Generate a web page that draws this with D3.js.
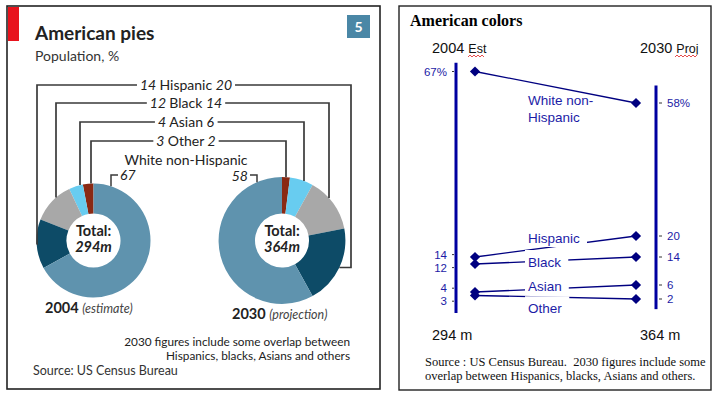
<!DOCTYPE html>
<html>
<head>
<meta charset="utf-8">
<script src="https://cdn.jsdelivr.net/npm/d3@7"></script>
<style>
  body { margin: 0; background: #fff; }
  svg { display: block; }
</style>
</head>
<body>
<svg id="chart" width="718" height="398"></svg>
<script>
// data
const groups = ['White non-Hispanic', 'Hispanic', 'Black', 'Asian', 'Other']
const share2004 = [67, 14, 12, 4, 3]
const share2030 = [58, 20, 14, 6, 2]
const years = ['2004', '2030']
const yearNotes = ['estimate', 'projection']
const yearTags = ['Est', 'Proj']
const totals = [294, 364]

const svg = d3.select('#chart')

const pieColor = d3.scaleOrdinal()
    .domain(groups)
    .range(['#5f93ae', '#0d4b67', '#a8a8a8', '#68ccf0', '#8a2913'])

// ---------- left panel: the pies ----------
const left = svg.append('g').attr('font-family', 'Lato, sans-serif').attr('fill', '#222')

left.append('rect')
    .attr('x', 7).attr('y', 6).attr('width', 373).attr('height', 383)
    .attr('fill', '#fff').attr('stroke', '#222').attr('stroke-width', 1.6)

left.append('rect')
    .attr('x', 8).attr('y', 7).attr('width', 11).attr('height', 34)
    .attr('fill', '#e8131d')

left.append('text')
    .attr('x', 35).attr('y', 40)
    .attr('font-size', 19).attr('font-weight', 700)
    .text('American pies')

left.append('text')
    .attr('x', 35).attr('y', 61)
    .attr('font-size', 14).attr('fill', '#333')
    .text('Population, %')

left.append('rect')
    .attr('x', 347).attr('y', 15).attr('width', 23).attr('height', 23)
    .attr('fill', '#4a87a6')
left.append('text')
    .attr('x', 358.5).attr('y', 32)
    .attr('text-anchor', 'middle').attr('font-size', 14).attr('font-weight', 700)
    .attr('fill', '#fff')
    .text('5')

const baseR = 57
const innerR = 27
const centers = [[93.5, 240.5], [282, 240.5]]
const shares = [share2004, share2030]

const pieData = shares.map((vals, k) => {
    const rows = groups.map((g, i) => ({ group: g, value: vals[i] })).reverse()
    const pie = d3.pie().sort(null).value(d => d.value)
        .startAngle(0)
        .endAngle(k == 0 ? -2 * Math.PI : 2 * Math.PI)
    return pie(rows)
})

const radii = totals.map(t => baseR * Math.sqrt(t / totals[0]))

pieData.forEach((arcs, k) => {
    const [cx, cy] = centers[k]
    const arc = d3.arc().innerRadius(innerR).outerRadius(radii[k])
    const g = left.append('g').attr('transform', `translate(${cx},${cy})`)
    g.selectAll('path')
        .data(arcs)
        .join('path')
        .attr('d', arc)
        .attr('fill', d => pieColor(d.data.group))

    g.append('text')
        .attr('y', -5).attr('text-anchor', 'middle')
        .attr('font-size', 14.5).attr('font-weight', 700)
        .text('Total:')
    g.append('text')
        .attr('y', 11).attr('text-anchor', 'middle')
        .attr('font-size', 14.5).attr('font-weight', 700).attr('font-style', 'italic')
        .text(totals[k] + 'm')
})

// year captions
const caption = [[45, 313], [232, 319]]
years.forEach((yr, k) => {
    const t = left.append('text')
        .attr('x', caption[k][0]).attr('y', caption[k][1])
        .attr('font-size', 14.5).attr('font-weight', 700)
    t.append('tspan').text(yr + ' ')
    t.append('tspan')
        .attr('font-size', 12.5).attr('font-weight', 400).attr('font-style', 'italic').attr('fill', '#444')
        .text('(' + yearNotes[k] + ')')
})

// bracket leaders: where a vertical line meets the donut
const edgePoint = (k, x, group) => {
    const [cx, cy] = centers[k]
    const r = radii[k]
    const dx = x - cx
    if (Math.abs(dx) < r - 1) return [[x, cy - Math.sqrt(r * r - dx * dx)]]
    const d = pieData[k].find(a => a.data.group == group)
    const mid = (d.startAngle + d.endAngle) / 2
    const py = cy - r * Math.cos(mid)
    return [[x, py], [cx + r * Math.sin(mid), py]]
}

const levelY = [85, 103, 122, 141]
const leftX = [37, 56, 80, 91]
const rightX = [351, 329, 304, 286]
const labelX = 186

const leader = d3.line()
groups.slice(1).forEach((g, i) => {
    const a = edgePoint(0, leftX[i], g).reverse()
    const b = edgePoint(1, rightX[i], g)
    const pts = [...a, [leftX[i], levelY[i]], [rightX[i], levelY[i]], ...b]
    left.append('path')
        .attr('d', leader(pts))
        .attr('fill', 'none').attr('stroke', '#3a3a3a').attr('stroke-width', 1.7)

    const j = i + 1
    const bg = left.append('rect').attr('fill', '#fff')
    const t = left.append('text')
        .attr('x', labelX).attr('y', levelY[i] + 5)
        .attr('text-anchor', 'middle').attr('font-size', 14)
    t.append('tspan').attr('font-style', 'italic').text(share2004[j] + ' ')
    t.append('tspan').text(g + ' ')
    t.append('tspan').attr('font-style', 'italic').text(share2030[j])
    const bb = t.node().getBBox()
    bg.attr('x', bb.x - 3).attr('y', bb.y).attr('width', bb.width + 6).attr('height', bb.height)
})

// white non-hispanic label and its little hooks
left.append('text')
    .attr('x', labelX).attr('y', 165)
    .attr('text-anchor', 'middle').attr('font-size', 14)
    .text(groups[0])

const hookY = 175
const hook0 = edgePoint(0, 111, groups[0])[0]
left.append('path')
    .attr('d', leader([hook0, [111, hookY], [118, hookY]]))
    .attr('fill', 'none').attr('stroke', '#3a3a3a').attr('stroke-width', 1.5)
left.append('text')
    .attr('x', 120).attr('y', 180)
    .attr('font-size', 14).attr('font-style', 'italic')
    .text(share2004[0])

const hook1 = edgePoint(1, 257, groups[0])[0]
left.append('path')
    .attr('d', leader([[250, hookY], [257, hookY], hook1]))
    .attr('fill', 'none').attr('stroke', '#3a3a3a').attr('stroke-width', 1.5)
left.append('text')
    .attr('x', 248).attr('y', 181)
    .attr('text-anchor', 'end').attr('font-size', 14).attr('font-style', 'italic')
    .text(share2030[0])

left.append('text')
    .attr('x', 350).attr('y', 346).attr('text-anchor', 'end').attr('font-size', 11.8)
    .text('2030 figures include some overlap between')
left.append('text')
    .attr('x', 350).attr('y', 360).attr('text-anchor', 'end').attr('font-size', 11.8)
    .text('Hispanics, blacks, Asians and others')
left.append('text')
    .attr('x', 33).attr('y', 375).attr('font-size', 12.5).attr('fill', '#333')
    .text('Source: US Census Bureau')

// ---------- right panel: slope chart ----------
const navy = '#000080'
const ink = '#1c1ca6'
const right = svg.append('g').attr('font-family', '"Liberation Sans", Arial, sans-serif')

right.append('rect')
    .attr('x', 399).attr('y', 6).attr('width', 312).attr('height', 384)
    .attr('fill', '#fff').attr('stroke', '#222').attr('stroke-width', 1.4)

right.append('text')
    .attr('x', 410).attr('y', 26)
    .attr('font-family', '"Liberation Serif", "Times New Roman", serif')
    .attr('font-size', 16).attr('font-weight', 700)
    .text('American colors')

const x = d3.scalePoint().domain(years).range([475, 636])
const y = d3.scaleLinear().domain([0, 58]).range([306, 103])

// axis bars
const axisX = [456, 656]
const axisSpan = [[69.5, -2], [63, -0.9]]
axisX.forEach((ax, k) => {
    right.append('line')
        .attr('x1', ax).attr('x2', ax)
        .attr('y1', y(axisSpan[k][0])).attr('y2', y(axisSpan[k][1]))
        .attr('stroke', '#0000a0').attr('stroke-width', 3)
})

// headers, clipped at the baseline like the original
right.append('clipPath').attr('id', 'headclip')
    .append('rect').attr('x', 400).attr('y', 30).attr('width', 310).attr('height', 24.5)
const heads = right.append('g').attr('clip-path', 'url(#headclip)')
const headX = [432, 640]
years.forEach((yr, k) => {
    const t = heads.append('text')
        .attr('x', headX[k]).attr('y', 53)
        .attr('font-size', 14.5).attr('fill', '#111')
    t.append('tspan').text(yr + ' ')
    t.append('tspan').attr('font-size', 12.5).text(yearTags[k])
})
// spell-check squiggles
const squig = [[468, 485], [675, 697]]
squig.forEach(([a, b]) => {
    const pts = d3.range(a, b + 0.1, 2).map((px, i) => [px, i % 2 ? 55 : 57])
    right.append('path')
        .attr('d', d3.line()(pts))
        .attr('fill', 'none').attr('stroke', '#e02020').attr('stroke-width', 0.8)
})

// value ticks, labels pushed apart when they crowd (lower one moves more)
const minGap = 13
const tickLabels = (vals, side) => {
    const items = vals.map((v, i) => ({ v, text: i == 0 ? v + '%' : String(v), pos: y(v) }))
        .sort((a, b) => a.pos - b.pos)
    for (let pass = 0; pass < 4; pass++) {
        for (let i = 1; i < items.length; i++) {
            const gap = items[i].pos - items[i - 1].pos
            if (gap < minGap) {
                const need = minGap - gap
                items[i - 1].pos -= need * 0.4
                items[i].pos += need * 0.6
            }
        }
    }
    const ax = axisX[side]
    const g = right.append('g')
    g.selectAll('line')
        .data(items)
        .join('line')
        .attr('x1', side == 0 ? ax - 4 : ax + 3)
        .attr('x2', side == 0 ? ax - 2 : ax + 6)
        .attr('y1', d => d.pos).attr('y2', d => d.pos)
        .attr('stroke', '#333').attr('stroke-width', 1)
    g.selectAll('text')
        .data(items)
        .join('text')
        .attr('x', side == 0 ? ax - 9 : ax + 11)
        .attr('y', d => d.pos + 4.2)
        .attr('text-anchor', side == 0 ? 'end' : 'start')
        .attr('font-size', 11.5).attr('fill', ink)
        .text(d => d.text)
}
tickLabels(share2004, 0)
tickLabels(share2030, 1)

const series = groups.map((g, i) => ({ group: g, values: [share2004[i], share2030[i]] }))

right.append('g')
    .selectAll('line')
    .data(series)
    .join('line')
    .attr('x1', x(years[0])).attr('x2', x(years[1]))
    .attr('y1', d => y(d.values[0])).attr('y2', d => y(d.values[1]))
    .attr('stroke', navy).attr('stroke-width', 1.3)

// series labels sit on a white patch that breaks the line
const labelDy = { 'White non-Hispanic': 18, 'Hispanic': -3.5, 'Black': 6.5, 'Asian': 2.5, 'Other': 16 }
const nameX = 528
series.forEach(s => {
    const base = y(d3.mean(s.values)) + labelDy[s.group]
    const g = right.append('g')
    const bg = g.append('rect').attr('fill', '#fff')
    const t = g.append('text')
        .attr('x', nameX).attr('y', base)
        .attr('font-size', 13.5).attr('fill', ink)
    const words = s.group == 'White non-Hispanic' ? ['White non-', 'Hispanic'] : [s.group]
    words.forEach((w, i) => {
        t.append('tspan').attr('x', nameX).attr('dy', i == 0 ? 0 : 16.5).text(w)
    })
    if (words.length == 1) {
        const bb = t.node().getBBox()
        bg.attr('x', bb.x - 3).attr('y', base - 17).attr('width', bb.width + 10).attr('height', 21)
    }
})

const diamond = d3.symbol().type(d3.symbolSquare).size(52)
series.forEach(s => {
    s.values.forEach((v, k) => {
        right.append('path')
            .attr('d', diamond())
            .attr('transform', `translate(${x(years[k])},${y(v)}) rotate(45)`)
            .attr('fill', navy)
    })
})

const totalX = [432, 640]
totals.forEach((t, k) => {
    right.append('text')
        .attr('x', totalX[k]).attr('y', 340)
        .attr('font-size', 14.5).attr('fill', '#111')
        .text(t + ' m')
})

const src = right.append('g')
    .attr('font-family', '"Liberation Serif", "Times New Roman", serif')
    .attr('font-size', 12.5).attr('fill', '#111')
src.append('text')
    .attr('x', 425).attr('y', 366)
    .style('white-space', 'pre')
    .text('Source : US Census Bureau.  2030 figures include some')
src.append('text')
    .attr('x', 425).attr('y', 380)
    .text('overlap between Hispanics, blacks, Asians and others.')
</script>
</body>
</html>
